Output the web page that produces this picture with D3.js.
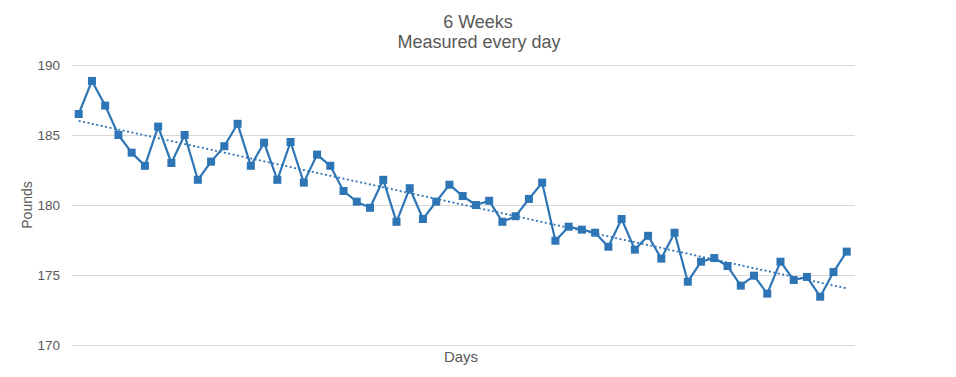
<!DOCTYPE html>
<html><head><meta charset="utf-8">
<script src="https://cdn.jsdelivr.net/npm/d3@7"></script>
<style>body{margin:0;background:#fff}svg{display:block;font-family:"Liberation Sans",Arial,sans-serif}</style>
</head><body><svg id="c" width="956" height="377"></svg>
<script>
const titleLines = ["6 Weeks", "Measured every day"];
const xTitle = "Days";
const yTitle = "Pounds";
const yTicks = [170, 175, 180, 185, 190];
const pounds = [186.5,188.86,187.1,185.0,183.74,182.8,185.6,183.0,185.0,181.8,
  183.1,184.2,185.8,182.8,184.45,181.8,184.5,181.6,183.6,182.8,
  181.0,180.24,179.8,181.8,178.8,181.2,179.0,180.24,181.45,180.64,
  180.0,180.3,178.8,179.2,180.43,181.6,177.45,178.45,178.24,178.02,
  177.02,179.0,176.81,177.8,176.17,178.02,174.52,175.95,176.21,175.64,
  174.24,174.95,173.67,175.95,174.64,174.86,173.45,175.21,176.67];
const days = pounds.map((_, i) => i + 1);

const svg = d3.select("#c");
const color = "#2E75B6", textCol = "#595959", gridCol = "#d9d9d9";
const plotL = 72, plotR = 855, plotT = 65, plotB = 345;

const x = d3.scalePoint().domain(days).range([78.7, 846.7]);
const y = d3.scaleLinear().domain([170, 190]).range([plotB, plotT]);

// grid + tick labels
const yAxis = d3.axisLeft(y).tickValues(yTicks).tickSize(-(plotR - plotL)).tickPadding(12).tickFormat(d3.format("d"));
const ga = svg.append("g").attr("transform", `translate(${plotL},0)`).call(yAxis);
ga.select(".domain").remove();
ga.selectAll(".tick line").attr("stroke", gridCol).attr("stroke-width", 1);
ga.selectAll(".tick text").attr("fill", textCol).attr("font-size", 13.5).attr("font-family", "Liberation Sans, Arial, sans-serif");

// trendline (least squares)
const n = pounds.length;
const mx = d3.mean(days), my = d3.mean(pounds);
const slope = d3.sum(days, (d, i) => (d - mx) * (pounds[i] - my)) / d3.sum(days, d => (d - mx) ** 2);
const icpt = my - slope * mx;
const d0 = days[0], d1 = days[n - 1];
svg.append("line")
  .attr("x1", x(d0)).attr("y1", y(icpt + slope * d0))
  .attr("x2", x(d1)).attr("y2", y(icpt + slope * d1))
  .attr("stroke", color).attr("stroke-width", 1.8).attr("stroke-dasharray", "2,2.5");

// series line
svg.append("path").datum(pounds)
  .attr("fill", "none").attr("stroke", color).attr("stroke-width", 2.2).attr("stroke-linejoin", "round")
  .attr("d", d3.line().x((d, i) => x(days[i])).y(d => y(d)));

// markers
const ms = 8;
svg.append("g").selectAll("rect").data(pounds).join("rect")
  .attr("x", (d, i) => x(days[i]) - ms / 2).attr("y", d => y(d) - ms / 2)
  .attr("width", ms).attr("height", ms).attr("fill", color);

// titles
svg.append("text").attr("x", 478).attr("y", 28).attr("text-anchor", "middle")
  .attr("fill", textCol).attr("font-size", 18).text(titleLines[0]);
svg.append("text").attr("x", 479).attr("y", 48).attr("text-anchor", "middle")
  .attr("fill", textCol).attr("font-size", 18).text(titleLines[1]);

svg.append("text").attr("x", 461).attr("y", 362).attr("text-anchor", "middle")
  .attr("fill", textCol).attr("font-size", 15).text(xTitle);
svg.append("text").attr("transform", `translate(32,${(plotT + plotB) / 2}) rotate(-90)`).attr("text-anchor", "middle")
  .attr("fill", textCol).attr("font-size", 14).text(yTitle);
</script></body></html>
